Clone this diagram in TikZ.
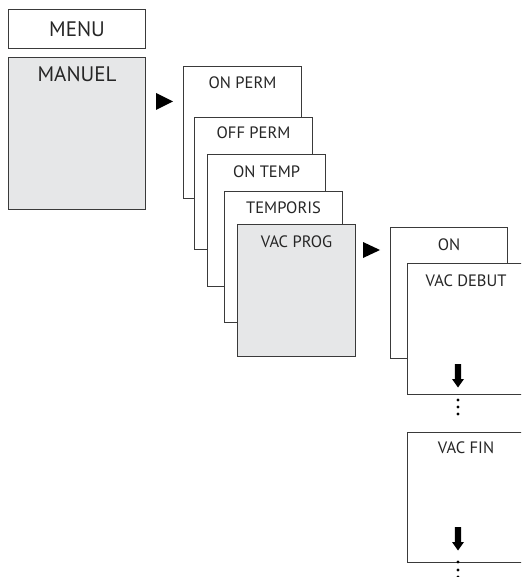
\documentclass[tikz,border=0pt]{standalone}
\usepackage{fontspec}
\setmainfont{PT Sans}
\definecolor{boxgray}{HTML}{E6E7E8}
\definecolor{edge}{HTML}{3A3A3A}
\begin{document}
\begin{tikzpicture}[x=1pt,y=-1pt,
  box/.style={draw=edge, line width=1.1pt, fill=white, anchor=north west, inner sep=0pt,
              minimum width=118pt, minimum height=132pt},
  graybox/.style={box, fill=boxgray},
  lbl/.style={anchor=base, inner sep=0pt, text=black!85, font=\fontsize{16.5}{19}\selectfont},
  biglbl/.style={lbl, font=\fontsize{21}{24}\selectfont},
  tri/.style={fill=black},
  blockarrow/.style={fill=black},
  dot/.style={fill=black}
]
\useasboundingbox (0,0) rectangle (521,577);
\clip (0,0) rectangle (521,577);

% MENU
\node[box, minimum width=137pt, minimum height=39pt] (menu) at (8,9) {};
\node[biglbl, anchor=center] (menut) at (menu.center) {MENU};

% MANUEL
\node[graybox, minimum width=137pt, minimum height=152pt] (manuel) at (8,57) {};
\node[biglbl] (manuelt) at ([yshift=-25pt]manuel.north) {MANUEL};

% arrow 1
\fill[tri] (156,93) -- (156,110) -- (173,101.5) -- cycle;

% stacked boxes
\node[box] (onperm) at (183,66) {};
\node[lbl] (onpermt) at ([yshift=-23pt]onperm.north) {ON PERM};
\node[box] (offperm) at (194,117) {};
\node[lbl] (offpermt) at ([yshift=-22pt]offperm.north) {OFF PERM};
\node[box] (ontemp) at (207,154) {};
\node[lbl] (ontempt) at ([yshift=-24pt]ontemp.north) {ON TEMP};
\node[box, minimum height=131pt] (temporis) at (224,191) {};
\node[lbl] (temporist) at ([yshift=-22pt]temporis.north) {TEMPORIS};
\node[graybox] (vacprog) at (237,224) {};
\node[lbl] (vacprogt) at ([yshift=-23pt]vacprog.north) {VAC PROG};

% arrow 2
\fill[tri] (363,242) -- (363,258) -- (380,250) -- cycle;

% right column
\node[box, minimum width=117pt, minimum height=131pt] (on) at (390,227) {};
\node[lbl] (ont) at ([yshift=-23pt]on.north) {ON};
\node[box, minimum width=117pt, minimum height=131pt] (vacdebut) at (407,263) {};
\node[lbl] (vacdebutt) at ([yshift=-23pt]vacdebut.north) {VAC DEBUT};
\fill[blockarrow] (454.8,364) -- (461.2,364) -- (461.2,379) -- (464,379) -- (458,387.5) -- (452,379) -- (454.8,379) -- cycle;
\foreach \yy in {400,407,414} \fill[dot] (458,\yy) circle (1.7pt);

\node[box, minimum width=117pt, minimum height=130pt] (vacfin) at (407,432) {};
\node[lbl] (vacfint) at ([yshift=-21pt]vacfin.north) {VAC FIN};
\fill[blockarrow] (454.8,527) -- (461.2,527) -- (461.2,542) -- (464,542) -- (458,550.5) -- (452,542) -- (454.8,542) -- cycle;
\foreach \yy in {562,570,577} \fill[dot] (458,\yy) circle (1.7pt);
\end{tikzpicture}
\end{document}
